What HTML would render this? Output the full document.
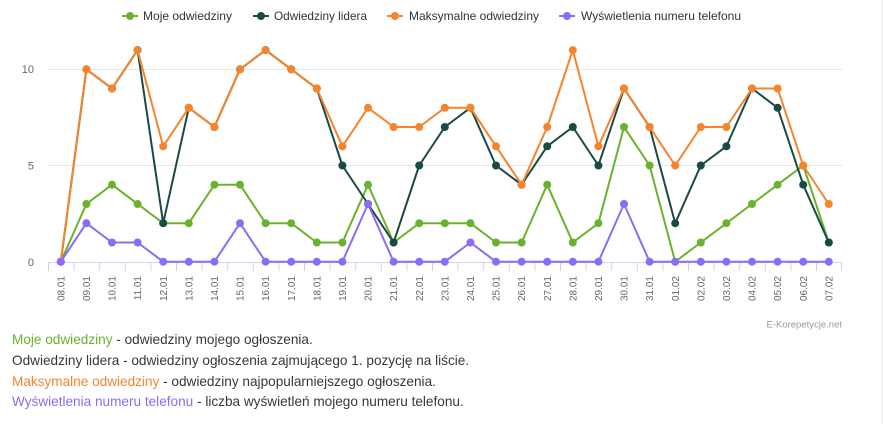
<!DOCTYPE html>
<html><head><meta charset="utf-8"><style>
html,body{margin:0;padding:0;background:#fff;}
body{width:883px;height:424px;position:relative;overflow:hidden;font-family:"Liberation Sans",sans-serif;}
svg{position:absolute;left:0;top:0;}
.notes{position:absolute;left:12px;top:330px;font-size:13.6px;line-height:20.8px;color:#383838;white-space:nowrap;}
.edge{position:absolute;right:0;top:0;width:2px;height:424px;background:#f2f2f2;}
</style></head><body>
<svg width="883" height="424" viewBox="0 0 883 424" xmlns="http://www.w3.org/2000/svg" font-family="Liberation Sans, sans-serif">
<defs>
<marker id="mg" markerUnits="userSpaceOnUse" markerWidth="10" markerHeight="10" refX="5" refY="5"><circle cx="5" cy="5" r="4" fill="#6ab22e"/></marker>
<marker id="md" markerUnits="userSpaceOnUse" markerWidth="10" markerHeight="10" refX="5" refY="5"><circle cx="5" cy="5" r="4" fill="#1a4a46"/></marker>
<marker id="mo" markerUnits="userSpaceOnUse" markerWidth="10" markerHeight="10" refX="5" refY="5"><circle cx="5" cy="5" r="4" fill="#f5842d"/></marker>
<marker id="mp" markerUnits="userSpaceOnUse" markerWidth="10" markerHeight="10" refX="5" refY="5"><circle cx="5" cy="5" r="4" fill="#8b6cf6"/></marker>
</defs>
<!-- gridlines -->
<line x1="48" y1="69.5" x2="842" y2="69.5" stroke="#e6e6e6" stroke-width="1"/>
<line x1="48" y1="165.5" x2="842" y2="165.5" stroke="#e6e6e6" stroke-width="1"/>
<!-- y labels -->
<g font-size="11" fill="#666" text-anchor="end">
<text x="34" y="73">10</text>
<text x="34" y="169.5">5</text>
<text x="34" y="266">0</text>
</g>
<!-- x axis -->
<line x1="48" y1="262.5" x2="842" y2="262.5" stroke="#ccd6eb" stroke-width="1"/>
<path stroke="#ccd6eb" stroke-width="1" fill="none" d="M48.5 262V271M74.1 262V271M99.7 262V271M125.3 262V271M150.9 262V271M176.5 262V271M202.1 262V271M227.7 262V271M253.3 262V271M278.9 262V271M304.5 262V271M330.1 262V271M355.7 262V271M381.3 262V271M406.9 262V271M432.5 262V271M458.1 262V271M483.7 262V271M509.3 262V271M534.9 262V271M560.5 262V271M586.1 262V271M611.7 262V271M637.3 262V271M662.9 262V271M688.5 262V271M714.1 262V271M739.7 262V271M765.3 262V271M790.9 262V271M816.5 262V271M841.5 262V271"/>
<g font-size="10" fill="#666" text-anchor="end">
<text transform="translate(64.4,276) rotate(-90)">08.01</text>
<text transform="translate(90,276) rotate(-90)">09.01</text>
<text transform="translate(115.6,276) rotate(-90)">10.01</text>
<text transform="translate(141.2,276) rotate(-90)">11.01</text>
<text transform="translate(166.8,276) rotate(-90)">12.01</text>
<text transform="translate(192.4,276) rotate(-90)">13.01</text>
<text transform="translate(218,276) rotate(-90)">14.01</text>
<text transform="translate(243.6,276) rotate(-90)">15.01</text>
<text transform="translate(269.2,276) rotate(-90)">16.01</text>
<text transform="translate(294.8,276) rotate(-90)">17.01</text>
<text transform="translate(320.4,276) rotate(-90)">18.01</text>
<text transform="translate(346,276) rotate(-90)">19.01</text>
<text transform="translate(371.6,276) rotate(-90)">20.01</text>
<text transform="translate(397.2,276) rotate(-90)">21.01</text>
<text transform="translate(422.8,276) rotate(-90)">22.01</text>
<text transform="translate(448.4,276) rotate(-90)">23.01</text>
<text transform="translate(474,276) rotate(-90)">24.01</text>
<text transform="translate(499.6,276) rotate(-90)">25.01</text>
<text transform="translate(525.2,276) rotate(-90)">26.01</text>
<text transform="translate(550.8,276) rotate(-90)">27.01</text>
<text transform="translate(576.4,276) rotate(-90)">28.01</text>
<text transform="translate(602,276) rotate(-90)">29.01</text>
<text transform="translate(627.6,276) rotate(-90)">30.01</text>
<text transform="translate(653.2,276) rotate(-90)">31.01</text>
<text transform="translate(678.8,276) rotate(-90)">01.02</text>
<text transform="translate(704.4,276) rotate(-90)">02.02</text>
<text transform="translate(730,276) rotate(-90)">03.02</text>
<text transform="translate(755.6,276) rotate(-90)">04.02</text>
<text transform="translate(781.2,276) rotate(-90)">05.02</text>
<text transform="translate(806.8,276) rotate(-90)">06.02</text>
<text transform="translate(832.4,276) rotate(-90)">07.02</text>
</g>
<!-- series -->
<polyline fill="none" stroke="#6ab22e" stroke-width="2" stroke-linejoin="round" marker-start="url(#mg)" marker-mid="url(#mg)" marker-end="url(#mg)" points="60.8,261.7 86.4,204.0 112,184.7 137.6,204.0 163.2,223.2 188.8,223.2 214.4,184.7 240,184.7 265.6,223.2 291.2,223.2 316.8,242.5 342.4,242.5 368,184.7 393.6,242.5 419.2,223.2 444.8,223.2 470.4,223.2 496,242.5 521.6,242.5 547.2,184.7 572.8,242.5 598.4,223.2 624,127.0 649.6,165.5 675.2,261.7 700.8,242.5 726.4,223.2 752,204.0 777.6,184.7 803.2,165.5 828.8,242.5"/>
<polyline fill="none" stroke="#1a4a46" stroke-width="2" stroke-linejoin="round" marker-start="url(#md)" marker-mid="url(#md)" marker-end="url(#md)" points="60.8,261.7 86.4,69.3 112,88.5 137.6,50.1 163.2,223.2 188.8,107.8 214.4,127.0 240,69.3 265.6,50.1 291.2,69.3 316.8,88.5 342.4,165.5 368,204.0 393.6,242.5 419.2,165.5 444.8,127.0 470.4,107.8 496,165.5 521.6,184.7 547.2,146.3 572.8,127.0 598.4,165.5 624,88.5 649.6,127.0 675.2,223.2 700.8,165.5 726.4,146.3 752,88.5 777.6,107.8 803.2,184.7 828.8,242.5"/>
<polyline fill="none" stroke="#f5842d" stroke-width="2" stroke-linejoin="round" marker-start="url(#mo)" marker-mid="url(#mo)" marker-end="url(#mo)" points="60.8,261.7 86.4,69.3 112,88.5 137.6,50.1 163.2,146.3 188.8,107.8 214.4,127.0 240,69.3 265.6,50.1 291.2,69.3 316.8,88.5 342.4,146.3 368,107.8 393.6,127.0 419.2,127.0 444.8,107.8 470.4,107.8 496,146.3 521.6,184.7 547.2,127.0 572.8,50.1 598.4,146.3 624,88.5 649.6,127.0 675.2,165.5 700.8,127.0 726.4,127.0 752,88.5 777.6,88.5 803.2,165.5 828.8,204.0"/>
<polyline fill="none" stroke="#8b6cf6" stroke-width="2" stroke-linejoin="round" marker-start="url(#mp)" marker-mid="url(#mp)" marker-end="url(#mp)" points="60.8,261.7 86.4,223.2 112,242.5 137.6,242.5 163.2,261.7 188.8,261.7 214.4,261.7 240,223.2 265.6,261.7 291.2,261.7 316.8,261.7 342.4,261.7 368,204.0 393.6,261.7 419.2,261.7 444.8,261.7 470.4,242.5 496,261.7 521.6,261.7 547.2,261.7 572.8,261.7 598.4,261.7 624,204.0 649.6,261.7 675.2,261.7 700.8,261.7 726.4,261.7 752,261.7 777.6,261.7 803.2,261.7 828.8,261.7"/>
<!-- legend -->
<g font-size="12" fill="#333">
<line x1="122" y1="16" x2="138" y2="16" stroke="#6ab22e" stroke-width="2"/><circle cx="130" cy="16" r="4" fill="#6ab22e"/>
<text x="143" y="20" textLength="89" lengthAdjust="spacingAndGlyphs">Moje odwiedziny</text>
<line x1="253" y1="16" x2="269" y2="16" stroke="#1a4a46" stroke-width="2"/><circle cx="261" cy="16" r="4" fill="#1a4a46"/>
<text x="274" y="20" textLength="93" lengthAdjust="spacingAndGlyphs">Odwiedziny lidera</text>
<line x1="387" y1="16" x2="403" y2="16" stroke="#f5842d" stroke-width="2"/><circle cx="395" cy="16" r="4" fill="#f5842d"/>
<text x="409" y="20" textLength="130" lengthAdjust="spacingAndGlyphs">Maksymalne odwiedziny</text>
<line x1="559" y1="16" x2="575" y2="16" stroke="#8b6cf6" stroke-width="2"/><circle cx="567" cy="16" r="4" fill="#8b6cf6"/>
<text x="581" y="20" textLength="160" lengthAdjust="spacingAndGlyphs">Wyświetlenia numeru telefonu</text>
</g>
<!-- credits -->
<text x="842" y="327.5" font-size="9.5" fill="#999" text-anchor="end">E-Korepetycje.net</text>
</svg>
<div class="notes">
<div><span style="color:#6ab22e">Moje odwiedziny</span> - odwiedziny mojego ogłoszenia.</div>
<div>Odwiedziny lidera - odwiedziny ogłoszenia zajmującego 1. pozycję na liście.</div>
<div><span style="color:#f5842d">Maksymalne odwiedziny</span> - odwiedziny najpopularniejszego ogłoszenia.</div>
<div><span style="color:#8b6cf6">Wyświetlenia numeru telefonu</span> - liczba wyświetleń mojego numeru telefonu.</div>
</div>
<div class="edge"></div>
</body></html>
